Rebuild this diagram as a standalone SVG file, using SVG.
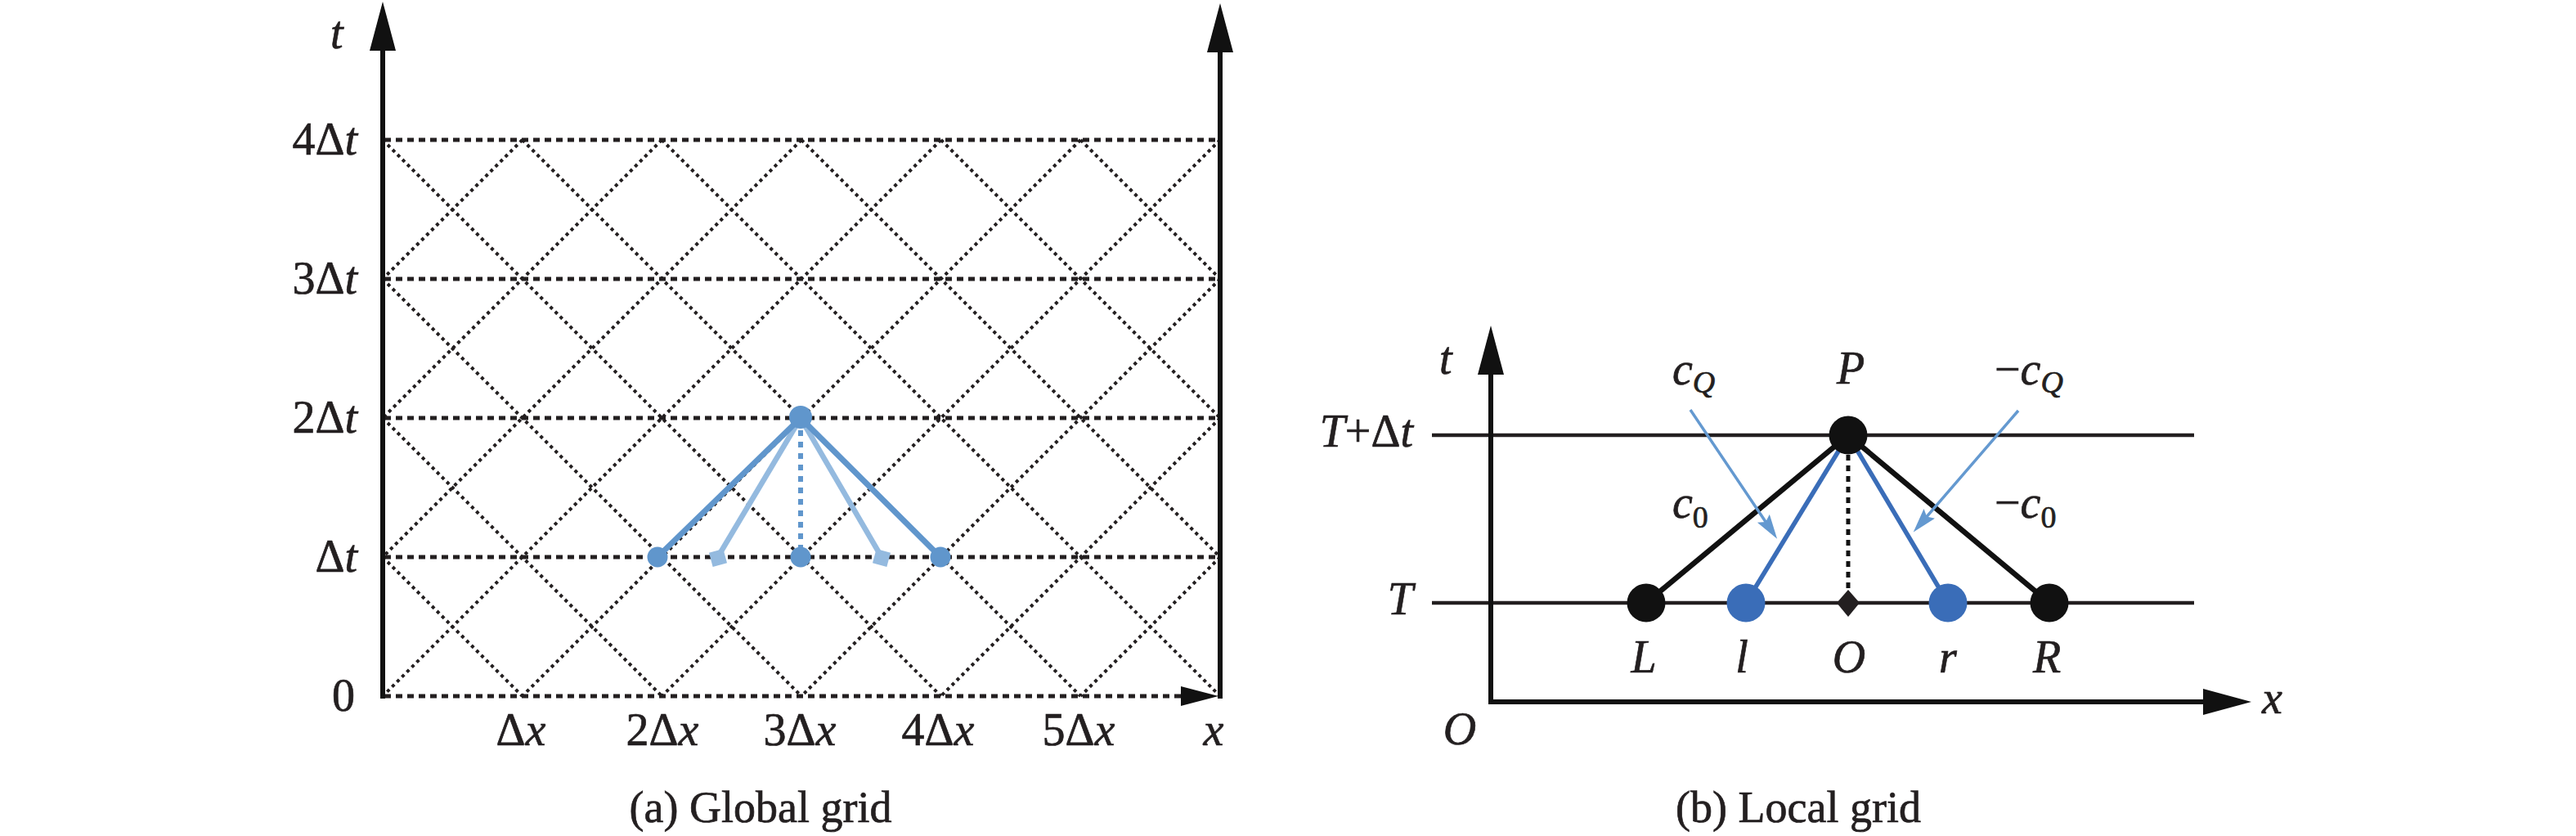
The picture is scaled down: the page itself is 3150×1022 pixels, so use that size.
<svg xmlns="http://www.w3.org/2000/svg" width="3150" height="1022" viewBox="0 0 3150 1022">
<style>
.lbl{font-family:"Liberation Serif","Times New Roman",serif;font-size:56px;fill:#231f20;stroke:#231f20;stroke-width:0.7}
.it{font-style:italic}
.cap{font-family:"Liberation Serif","Times New Roman",serif;font-size:54px;fill:#231f20;stroke:#231f20;stroke-width:0.7}
.sub{font-size:38px}
.axis{stroke:#111;stroke-width:6;fill:none}
.head{fill:#111}
.hgrid{stroke:#231f20;stroke-width:5;stroke-dasharray:8 6;fill:none}
.dgrid{stroke:#231f20;stroke-width:4;stroke-dasharray:4 4.5;fill:none}
.tline{stroke:#231f20;stroke-width:4.5;fill:none}
</style>
<defs>
<marker id="ah" markerUnits="userSpaceOnUse" markerWidth="32" markerHeight="22" refX="14" refY="9" orient="auto">
<path d="M0,0 L30,9 L0,18 L5,9 z" fill="#6499d0"/>
</marker>
</defs>
<rect width="3150" height="1022" fill="#fff"/>

<!-- ===== Panel (a) ===== -->
<g id="grid-a">
<path class="dgrid" d="M468,681 L638.7,851 M468,511 L809.3,851 M468,341 L980,851 M468,171 L1150.7,851 M638.7,171 L1321.3,851 M809.3,171 L1492,851 M980,171 L1492,681 M1150.7,171 L1492,511 M1321.3,171 L1492,341"/>
<path class="dgrid" d="M638.7,171 L468,341 M809.3,171 L468,511 M980,171 L468,681 M1150.7,171 L468,851 M1321.3,171 L638.7,851 M1492,171 L809.3,851 M1492,341 L980,851 M1492,511 L1150.7,851 M1492,681 L1321.3,851"/>
<path class="hgrid" d="M470,171 H1490 M470,341 H1490 M470,511 H1490 M470,681 H1490 M470,851 H1446"/>
</g>
<g id="axes-a">
<line class="axis" x1="468" y1="58" x2="468" y2="854"/>
<polygon class="head" points="468,2 452,62 484,62"/>
<line class="axis" x1="1492" y1="60" x2="1492" y2="854"/>
<polygon class="head" points="1492,4 1476,64 1508,64"/>
<polygon class="head" points="1490,851 1444,839 1444,863"/>
</g>
<g id="labels-a">
<text class="lbl it" x="404" y="59">t</text>
<text class="lbl" x="437" y="189" text-anchor="end">4Δ<tspan class="it">t</tspan></text>
<text class="lbl" x="437" y="359" text-anchor="end">3Δ<tspan class="it">t</tspan></text>
<text class="lbl" x="437" y="529" text-anchor="end">2Δ<tspan class="it">t</tspan></text>
<text class="lbl" x="437" y="699" text-anchor="end">Δ<tspan class="it">t</tspan></text>
<text class="lbl" x="434" y="869" text-anchor="end">0</text>
<text class="lbl" x="637" y="911" text-anchor="middle">Δ<tspan class="it">x</tspan></text>
<text class="lbl" x="810" y="911" text-anchor="middle">2Δ<tspan class="it">x</tspan></text>
<text class="lbl" x="978" y="911" text-anchor="middle">3Δ<tspan class="it">x</tspan></text>
<text class="lbl" x="1147" y="911" text-anchor="middle">4Δ<tspan class="it">x</tspan></text>
<text class="lbl" x="1319" y="911" text-anchor="middle">5Δ<tspan class="it">x</tspan></text>
<text class="lbl it" x="1484" y="911" text-anchor="middle">x</text>
<text class="cap" x="930" y="1005" text-anchor="middle">(a) Global grid</text>
</g>
<g id="connectors-a">
<line x1="979" y1="511" x2="877.7" y2="681" stroke="#94badf" stroke-width="6.5"/>
<line x1="979" y1="511" x2="1078" y2="681" stroke="#94badf" stroke-width="6.5"/>
<line x1="979" y1="511" x2="804" y2="681" stroke="#6096cc" stroke-width="7"/>
<line x1="979" y1="511" x2="1150" y2="681" stroke="#6096cc" stroke-width="7"/>
<line x1="979" y1="526" x2="979" y2="670" stroke="#6096cc" stroke-width="6" stroke-dasharray="7 7"/>
</g>
<g id="node-a-P"><circle cx="979" cy="510" r="14" fill="#6096cc"/></g>
<g id="node-a-left"><circle cx="804" cy="681" r="12.5" fill="#6096cc"/></g>
<g id="node-a-mid"><circle cx="979" cy="681" r="12.5" fill="#6096cc"/></g>
<g id="node-a-right"><circle cx="1150" cy="681" r="12.5" fill="#6096cc"/></g>
<g id="node-a-sqL"><rect x="-9" y="-9" width="18" height="18" fill="#94badf" transform="translate(878,682) rotate(-15)"/></g>
<g id="node-a-sqR"><rect x="-9" y="-9" width="18" height="18" fill="#94badf" transform="translate(1078,682) rotate(15)"/></g>

<!-- ===== Panel (b) ===== -->
<g id="axes-b">
<line class="tline" x1="1751" y1="532" x2="2683" y2="532"/>
<line class="tline" x1="1751" y1="737" x2="2683" y2="737"/>
<line class="axis" x1="1823" y1="455" x2="1823" y2="861"/>
<polygon class="head" points="1823,398 1807,458 1839,458"/>
<line class="axis" x1="1820" y1="858" x2="2696" y2="858"/>
<polygon class="head" points="2753,858 2694,842 2694,874"/>
</g>
<g id="connectors-b">
<line x1="2260" y1="532" x2="2013" y2="737" stroke="#111" stroke-width="6.5"/>
<line x1="2260" y1="532" x2="2506" y2="737" stroke="#111" stroke-width="6.5"/>
<line x1="2260" y1="532" x2="2135" y2="737" stroke="#3a6db8" stroke-width="5.5"/>
<line x1="2260" y1="532" x2="2382" y2="737" stroke="#3a6db8" stroke-width="5.5"/>
<line x1="2260" y1="556" x2="2260" y2="721" stroke="#111" stroke-width="5" stroke-dasharray="7 6"/>
<line x1="2067" y1="501" x2="2164.2" y2="645.4" stroke="#6499d0" stroke-width="3.5" marker-end="url(#ah)"/>
<line x1="2468" y1="502" x2="2350.2" y2="638.4" stroke="#6499d0" stroke-width="3.5" marker-end="url(#ah)"/>
</g>
<g id="node-P"><circle cx="2260" cy="532" r="23.5" fill="#111"/></g>
<g id="node-L"><circle cx="2013" cy="737" r="23.5" fill="#111"/></g>
<g id="node-l"><circle cx="2135" cy="737" r="23.5" fill="#3a6db8"/></g>
<g id="node-O"><polygon points="2260,721 2274,737 2260,754 2246,737" fill="#231f20"/></g>
<g id="node-r"><circle cx="2382" cy="737" r="23.5" fill="#3a6db8"/></g>
<g id="node-R"><circle cx="2506" cy="737" r="23.5" fill="#111"/></g>
<g id="labels-b">
<text class="lbl it" x="1760" y="457">t</text>
<text class="lbl" x="1728" y="546" text-anchor="end"><tspan class="it">T</tspan>+Δ<tspan class="it">t</tspan></text>
<text class="lbl it" x="1728" y="751" text-anchor="end">T</text>
<text class="lbl it" x="1785" y="910" text-anchor="middle">O</text>
<text class="lbl it" x="2766" y="872">x</text>
<text class="lbl it" x="2263" y="469" text-anchor="middle">P</text>
<text class="lbl it" x="2045" y="470">c<tspan class="sub" dy="10">Q</tspan></text>
<text class="lbl it" x="2045" y="633">c<tspan class="sub" dy="12" font-style="normal">0</tspan></text>
<text class="lbl" x="2439" y="470">−<tspan class="it">c</tspan><tspan class="sub it" dy="10">Q</tspan></text>
<text class="lbl" x="2439" y="633">−<tspan class="it">c</tspan><tspan class="sub" dy="12">0</tspan></text>
<text class="lbl it" x="2010" y="822" text-anchor="middle">L</text>
<text class="lbl it" x="2130" y="822" text-anchor="middle">l</text>
<text class="lbl it" x="2261" y="822" text-anchor="middle">O</text>
<text class="lbl it" x="2382" y="822" text-anchor="middle">r</text>
<text class="lbl it" x="2503" y="822" text-anchor="middle">R</text>
<text class="cap" x="2199" y="1005" text-anchor="middle">(b) Local grid</text>
</g>
</svg>
